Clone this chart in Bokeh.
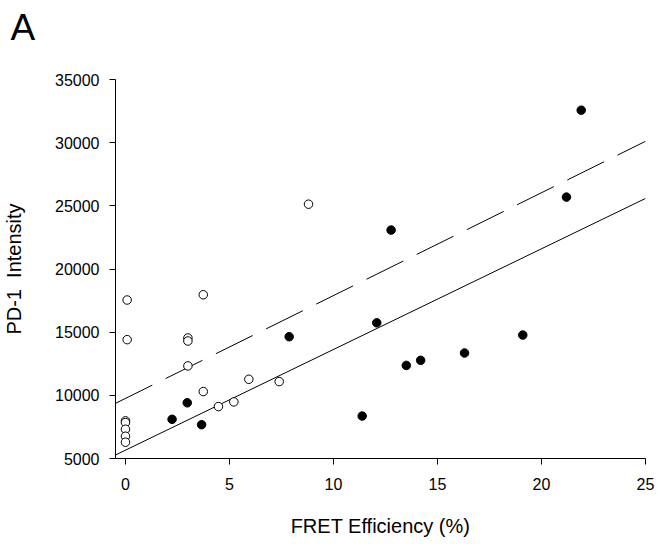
from bokeh.plotting import figure
from bokeh.models import Range1d, FixedTicker, Title
from bokeh.embed import file_html
from bokeh.resources import INLINE

# ---- data ----
open_x = [0.0, 0.0, 0.0, 0.0, 0.0, 0.08, 0.08, 3.0, 3.0, 3.0, 3.74, 3.74, 4.47, 5.21, 5.93, 7.39, 8.8]
open_y = [7980, 7846, 7316, 6763, 6289, 17545, 14407, 14540, 14300, 12330, 17960, 10300, 9110, 9480, 11270, 11090, 25130]

filled_x = [2.24, 2.97, 3.66, 7.87, 11.38, 12.08, 12.77, 13.5, 14.19, 16.3, 19.1, 21.2, 21.91]
filled_y = [8100, 9410, 7675, 14640, 8360, 15740, 23080, 12370, 12770, 13350, 14770, 25690, 32570]

# fitted lines (intercept, slope)
solid_fit = (5660, 797)
dashed_fit = (9757, 814)
fit_x = [-0.48, 25.0]

x_ticks = [0, 5, 10, 15, 20, 25]
y_ticks = [5000, 10000, 15000, 20000, 25000, 30000, 35000]

FONT = "Liberation Sans"

p = figure(
    output_backend="svg", toolbar_location=None,
    frame_width=530, frame_height=379,
    min_border_left=113, min_border_right=14, min_border_top=79, min_border_bottom=86,
    x_range=Range1d(-0.48, 25), y_range=Range1d(5000, 35000),
)
p.outline_line_color = None
p.xgrid.visible = False
p.ygrid.visible = False
p.background_fill_color = "white"
p.border_fill_color = "white"

solid_y = [solid_fit[0] + solid_fit[1] * x for x in fit_x]
dashed_y = [dashed_fit[0] + dashed_fit[1] * x for x in fit_x]
p.line(fit_x, solid_y, line_color="black", line_width=1)
p.line(fit_x, dashed_y, line_color="black", line_width=1, line_dash="41 15")

p.scatter(open_x, open_y, size=8.5, fill_color="white", line_color="black", line_width=1)
p.scatter(filled_x, filled_y, size=8.5, fill_color="black", line_color="black", line_width=1)

for ax in (p.xaxis[0], p.yaxis[0]):
    ax.axis_line_color = "black"
    ax.axis_line_width = 1
    ax.major_tick_line_color = "black"
    ax.major_tick_out = 6
    ax.major_tick_in = 0
    ax.minor_tick_out = 0
    ax.minor_tick_in = 0
    ax.major_label_text_font = FONT
    ax.major_label_text_font_size = "16px"
    ax.major_label_text_color = "black"
    ax.axis_label_text_font = FONT
    ax.axis_label_text_font_size = "20px"
    ax.axis_label_text_font_style = "normal"
    ax.axis_label_text_color = "black"

p.xaxis[0].ticker = FixedTicker(ticks=x_ticks)
p.yaxis[0].ticker = FixedTicker(ticks=y_ticks)
p.xaxis[0].axis_label = "FRET Efficiency (%)"
p.yaxis[0].axis_label = "PD-1\u00a0 Intensity"
p.xaxis[0].major_label_standoff = 13
p.yaxis[0].major_label_standoff = 10
p.xaxis[0].axis_label_standoff = 22
p.yaxis[0].axis_label_standoff = 27

# spacer between frame and the panel letter
p.add_layout(Title(text="\u00a0", text_font=FONT, text_font_size="26px", standoff=0), "above")
# panel letter
p.add_layout(Title(text="A", text_font=FONT, text_font_size="37px", text_color="black",
                   text_font_style="normal", align="left", offset=-105, standoff=0), "above")

open("out.html", "w").write(file_html(p, INLINE))
